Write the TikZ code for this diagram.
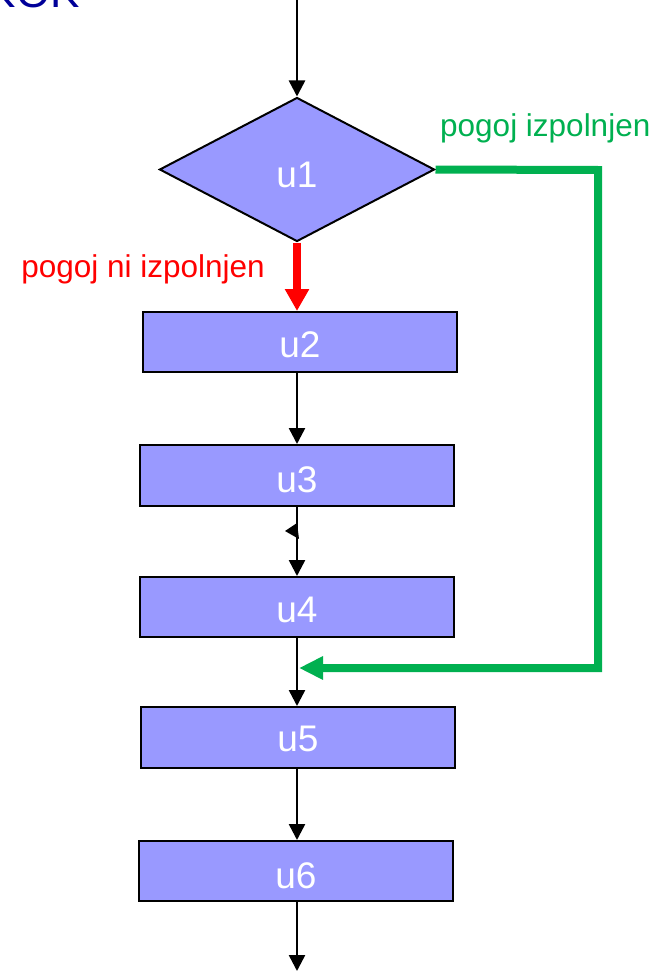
\documentclass[tikz,border=0pt]{standalone}
\usepackage{fontspec}
\setmainfont{Liberation Sans}
\usetikzlibrary{shapes.geometric,arrows.meta}
\definecolor{boxfill}{RGB}{153,153,255}
\definecolor{okgreen}{RGB}{0,176,80}
\definecolor{titleblue}{RGB}{0,0,153}
\newcommand{\lowtext}[2]{\raisebox{-#1}[\height][0pt]{#2}}
\tikzset{
  stmt/.style={draw=black, line width=2pt, fill=boxfill, text=white,
    minimum width=314pt, minimum height=60pt, inner sep=0pt,
    font=\fontsize{37}{42}\selectfont},
  cond/.style={diamond, draw=black, line width=2pt, fill=boxfill, text=white,
    minimum width=275pt, minimum height=144pt, inner sep=0pt,
    font=\fontsize{37}{42}\selectfont},
  flow/.style={line width=2.5pt, -{Triangle[width=16pt,length=16pt]}},
  noflow/.style={red, line width=8pt, -{Triangle[width=23pt,length=22pt]}},
  yesflow/.style={okgreen, line width=8pt, line join=miter, -{Triangle[width=22pt,length=24pt]}},
  lbl/.style={inner sep=0pt, font=\fontsize{31.5}{37}\selectfont}
}
\begin{document}
\begin{tikzpicture}[x=1pt,y=-1pt]
\useasboundingbox (0,0) rectangle (656,971);
\node[inner sep=0pt, anchor=base east, text=titleblue, font=\fontsize{44}{52}\selectfont] (title) at (80,8) {SKOK};
\coordinate (top) at (297,0);
\node[cond] (u1) at (297,169.5) {\lowtext{5pt}{u1}};
\node[stmt] (u2) at (300,342) {\lowtext{3pt}{u2}};
\node[stmt, minimum height=61pt] (u3) at (297,475.5) {\lowtext{4pt}{u3}};
\node[stmt] (u4) at (297,607) {\lowtext{3pt}{u4}};
\node[stmt, minimum height=61pt] (u5) at (298,737.5) {\lowtext{1pt}{u5}};
\node[stmt] (u6) at (296,871) {\lowtext{5pt}{u6}};
\coordinate (bottom) at (297,971);
\coordinate (gcorner) at (598,170);
\coordinate (gend) at (299,668);

\draw[flow] (top) -- (u1.north);
\draw[noflow] (u1.south) -- (u2.north -| u1.south);
\draw[flow] (u2.south -| u1.south) -- (u3.north -| u1.south);
\draw[flow] (u3.south -| u1.south) -- (u4.north -| u1.south);
\draw[flow] (u4.south -| u1.south) -- (u5.north -| u1.south);
\draw[flow] (u5.south -| u1.south) -- (u6.north -| u1.south);
\draw[flow] (u6.south -| u1.south) -- (bottom);
\fill (297,523) -- (285,531) -- (299,539) -- cycle;
\draw[yesflow] (u1.east) -- (gcorner) |- (gend);

\node[lbl, text=red, anchor=base east] (nolbl) at (265,277) {pogoj ni izpolnjen};
\node[lbl, text=okgreen, anchor=base west] (yeslbl) at (440,136) {pogoj izpolnjen};
\end{tikzpicture}
\end{document}
